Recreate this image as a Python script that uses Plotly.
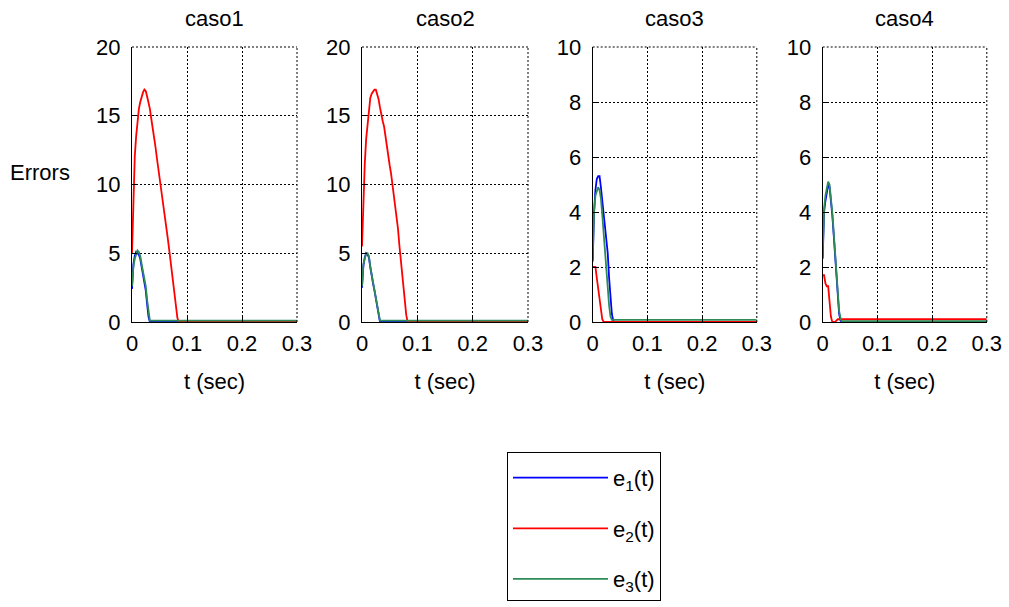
import plotly.graph_objects as go

# Sample instants (s): transient part every 2.5 ms, then the end of the run
t = [0.0, 0.0025, 0.005, 0.0075, 0.01, 0.0125, 0.015, 0.0175, 0.02, 0.0225,
     0.025, 0.0275, 0.03, 0.0325, 0.035, 0.0375, 0.04, 0.0425, 0.045, 0.0475,
     0.05, 0.0525, 0.055, 0.0575, 0.06, 0.0625, 0.065, 0.0675, 0.07, 0.0725,
     0.075, 0.0775, 0.08, 0.0825, 0.085, 0.3]

case_titles = ["caso1", "caso2", "caso3", "caso4"]
x_ticks = [0, 0.1, 0.2, 0.3]

# caso1
caso1_e1 = [2.4, 4.2, 4.8, 5.1, 5.0, 4.9, 4.6, 4.0, 3.4, 2.8, 2.3, 1.3, 0.4, 0.0] + [0.0] * 22
caso1_e2 = [5.0, 9.5, 12.0, 13.5, 14.8, 15.5, 16.0, 16.4, 16.7, 16.9,
            16.8, 16.4, 16.0, 15.5, 14.8, 14.2, 13.5, 12.8, 12.0, 11.3,
            10.6, 9.8, 9.1, 8.4, 7.6, 6.9, 6.1, 5.3, 4.5, 3.7,
            2.9, 2.1, 1.4, 0.3, 0.0, 0.0]
caso1_e3 = [2.6, 4.0, 4.6, 5.0, 5.2, 5.1, 4.8, 4.2, 3.6, 3.0, 2.6, 1.6, 0.7, 0.1] + [0.1] * 22

# caso2
caso2_e1 = [2.5, 4.1, 4.7, 5.0, 4.9, 4.7, 4.0, 3.3, 2.8, 2.3, 1.7, 1.0, 0.4, 0.0] + [0.0] * 22
caso2_e2 = [5.5, 9.0, 11.5, 13.3, 14.5, 15.6, 16.3, 16.6, 16.8, 16.9,
            16.9, 16.6, 16.2, 15.6, 15.0, 14.6, 14.2, 13.4, 12.7, 12.0,
            11.4, 10.8, 10.0, 9.3, 8.5, 7.6, 6.8, 5.6, 4.6, 3.5,
            2.6, 1.4, 0.5, 0.0, 0.0, 0.0]
caso2_e3 = [2.6, 4.2, 4.6, 5.0, 5.0, 4.8, 4.0, 3.4, 2.9, 2.4, 1.8, 1.1, 0.5, 0.1] + [0.1] * 22

# caso3
caso3_e1 = [2.2, 4.0, 4.8, 5.2, 5.3, 5.3, 4.9, 4.4, 4.0, 3.4, 3.0, 2.5, 1.6, 0.8, 0.3, 0.05, 0.0] + [0.0] * 19
caso3_e2 = [2.0, 2.0, 2.0, 1.6, 1.2, 0.9, 0.5, 0.1, 0.0] + [0.0] * 27
caso3_e3 = [2.4, 4.0, 4.6, 4.8, 4.9, 4.8, 4.5, 3.9, 3.2, 2.5, 1.8, 1.2, 0.6, 0.2, 0.08] + [0.08] * 21

# caso4
caso4_e1 = [2.3, 4.0, 4.4, 4.8, 5.0, 4.9, 4.5, 3.9, 3.2, 2.5, 1.6, 0.9, 0.3, 0.05, 0.0] + [0.0] * 21
caso4_e2 = [1.7, 1.7, 1.4, 1.3, 1.3, 0.7, 0.2, 0.0, 0.0, 0.0, 0.05, 0.1] + [0.1] * 24
caso4_e3 = [2.5, 4.1, 4.6, 4.9, 5.1, 5.0, 4.6, 4.0, 3.3, 2.6, 1.7, 1.0, 0.4, 0.15, 0.03] + [0.03] * 21

y_max = [20, 20, 10, 10]
y_step = [5, 5, 2, 2]

errors = [
    [caso1_e1, caso1_e2, caso1_e3],
    [caso2_e1, caso2_e2, caso2_e3],
    [caso3_e1, caso3_e2, caso3_e3],
    [caso4_e1, caso4_e2, caso4_e3],
]
names = ["e<sub>1</sub>(t)", "e<sub>2</sub>(t)", "e<sub>3</sub>(t)"]
colors = ["#0000ff", "#ff0000", "#2e8b57"]

FONT = "Liberation Sans, Arial, sans-serif"
W, H = 1009, 607
DOT = "2px,2px"

# panel frames in pixels (left, right) and shared (top, bottom)
panel_x = [(132, 297), (362, 528), (592.7, 756.8), (822.7, 986.8)]
top_px, bottom_px = 47, 322

fig = go.Figure()

for i, series in enumerate(errors):
    ax = "" if i == 0 else str(i + 1)
    for k, y in enumerate(series):
        fig.add_trace(go.Scatter(
            x=t, y=y, mode="lines", name=names[k],
            line=dict(color=colors[k], width=1.8),
            xaxis="x" + ax, yaxis="y" + ax,
            legendgroup=names[k], showlegend=(i == 0),
        ))

    xl, xr = panel_x[i]
    common = dict(
        showline=True, linecolor="black", linewidth=1,
        showgrid=True, gridcolor="black", gridwidth=1, griddash=DOT,
        zeroline=False, ticks="inside", ticklen=5, tickcolor="black",
        automargin=False,
        tickfont=dict(family=FONT, size=22, color="black"),
    )
    fig.update_layout(**{
        "xaxis" + ax: dict(
            domain=[xl / W, xr / W], range=[0, 0.3], tickvals=x_ticks,
            ticktext=["0", "0.1", "0.2", "0.3"], anchor="y" + ax,
            ticklabelstandoff=2,
            title=dict(text="t (sec)", font=dict(family=FONT, size=22, color="black"), standoff=18),
            **common),
        "yaxis" + ax: dict(
            domain=[1 - bottom_px / H, 1 - top_px / H], range=[0, y_max[i]],
            dtick=y_step[i], anchor="x" + ax, ticklabelstandoff=6, **common),
    })
    # dotted top and right edges of the panel box
    xd, yd = "x" + ax + " domain", "y" + ax + " domain"
    fig.add_shape(type="line", xref=xd, yref=yd, x0=0, x1=1, y0=1, y1=1,
                  line=dict(color="black", width=1, dash=DOT))
    fig.add_shape(type="line", xref=xd, yref=yd, x0=1, x1=1, y0=0, y1=1,
                  line=dict(color="black", width=1, dash=DOT))
    fig.add_annotation(
        x=(xl + xr) / 2 / W, y=1 - 18 / H, xref="paper", yref="paper",
        text=case_titles[i], showarrow=False, xanchor="center", yanchor="middle",
        font=dict(family=FONT, size=22, color="black"))

fig.add_annotation(
    x=8 / W, y=1 - 172 / H, xref="paper", yref="paper", text="Errors",
    showarrow=False, xanchor="left", yanchor="middle",
    font=dict(family=FONT, size=22, color="black"))

fig.update_layout(
    width=W, height=H,
    margin=dict(l=0, r=0, t=0, b=0, autoexpand=False),
    paper_bgcolor="white", plot_bgcolor="white",
    font=dict(family=FONT, size=22, color="black"),
    legend=dict(
        x=507 / W, y=1 - 452 / H, xanchor="left", yanchor="top",
        bordercolor="black", borderwidth=1, bgcolor="white",
        tracegroupgap=19, itemwidth=95,
        title=dict(text=" ", font=dict(family=FONT, size=3)),
        font=dict(family=FONT, size=22, color="black"),
    ),
)

fig.write_html("out.html")
